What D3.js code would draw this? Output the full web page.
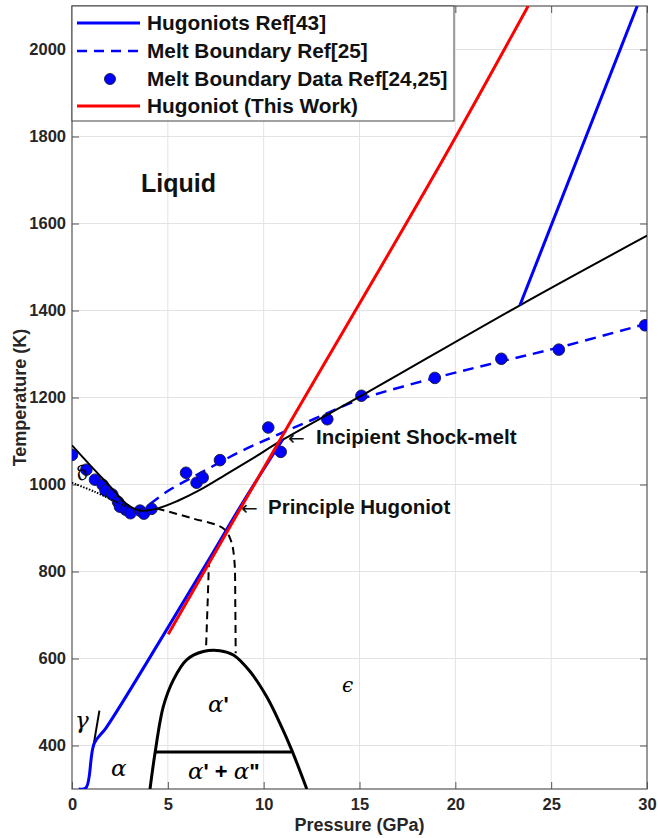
<!DOCTYPE html>
<html><head><meta charset="utf-8">
<script src="https://cdn.jsdelivr.net/npm/d3@7"></script>
<style>
body{margin:0;background:#fff;}
svg{display:block;font-family:"Liberation Sans",Arial,sans-serif;}
</style></head>
<body><svg id="c" width="658" height="838"></svg>
<script>
// ---------- data (Pressure GPa, Temperature K) ----------
const xTicks = [0,5,10,15,20,25,30];
const yTicks = [400,600,800,1000,1200,1400,1600,1800,2000];

const hugoniotRef43P = [0.35,0.73,1.16,1.77,4.8,7.15,9.0,11.0];
const hugoniotRef43T = [300,303,405,440,656,828,965,1104];
const hugoniotRef43bP = [23.37,29.49];
const hugoniotRef43bT = [1412,2100];

const hugoniotThisP = [5.02,11.0,19.2,23.8];
const hugoniotThisT = [656,1114,1735,2100];

const meltRef25P = [4.07,5.0,6.68,8.76,10.5,12.6,15.0,19.2,22.4,25.4,30];
const meltRef25T = [955,985,1026,1075,1110,1150,1195,1248,1283,1315,1370];

const meltDataP = [0,0.75,1.2,1.6,1.75,2.1,2.4,2.5,2.8,3.05,3.55,3.75,4.15,5.95,6.5,6.82,7.72,10.24,10.89,13.32,15.1,18.93,22.4,25.4,29.9];
const meltDataT = [1068,1034,1011,999,986,977,960,949,942,934,940,933,944,1027,1004,1016,1056,1131,1075,1150,1204,1245,1289,1310,1366];

const meltSolidP = [0,1.1,2.0,2.85,3.55,4.4,5.5,6.7,8.0,9.5,11.0,15.5,23.37,30];
const meltSolidT = [1090,1037,995,955,940,944,962,988,1022,1062,1103,1214,1412,1572];

const deltaBoundP = [0,1.2,2.4,3.0];
const deltaBoundT = [1004,983,958,946];

const dashRightP = [4.42,6.3,7.9,8.3,8.47,8.52,8.54];
const dashRightT = [945,922,899,870,826,720,612];
const dashLeftP = [7.15,7.07,6.99];
const dashLeftT = [828,720,620];

const gammaP = [1.11,1.43];
const gammaT = [397,480];

const domeP = [4.07,4.33,4.76,5.29,5.98,6.85,7.72,8.42,9.29,10.16,10.85,11.46,12.25];
const domeT = [300,382,489,551,597,616,618,608,570,512,451,390,300];
const domeBarP = [4.33,11.46];
const domeBarT = [385,385];

const legendLabels = ["Hugoniots Ref[43]","Melt Boundary Ref[25]","Melt Boundary Data Ref[24,25]","Hugoniot (This Work)"];

// ---------- setup ----------
const svg = d3.select("#c");
const L=72, R=647, T=6, B=789;
const x = d3.scaleLinear().domain([0,30]).range([L,R]);
const y = d3.scaleLinear().domain([300,2100]).range([B,T]);
const zip = (P,Tv)=>P.map((p,i)=>[p,Tv[i]]);

svg.append("defs").append("clipPath").attr("id","clip")
  .append("rect").attr("x",L).attr("y",T).attr("width",R-L).attr("height",B-T);

// grid
const grid = svg.append("g").attr("stroke","#e3e3e3").attr("stroke-width",1);
xTicks.slice(1,-1).forEach(v=>grid.append("line").attr("x1",x(v)).attr("x2",x(v)).attr("y1",T).attr("y2",B));
yTicks.forEach(v=>grid.append("line").attr("x1",L).attr("x2",R).attr("y1",y(v)).attr("y2",y(v)));

// axes
const axCol="#262626";
const fmt = d3.format("d");
const gx = svg.append("g").attr("transform",`translate(0,${B})`)
  .call(d3.axisBottom(x).tickValues(xTicks).tickFormat(fmt).tickSizeInner(-7).tickSizeOuter(0).tickPadding(9));
const gy = svg.append("g").attr("transform",`translate(${L},0)`)
  .call(d3.axisLeft(y).tickValues(yTicks).tickFormat(fmt).tickSizeInner(-7).tickSizeOuter(0).tickPadding(6));
const gt = svg.append("g").attr("transform",`translate(0,${T})`)
  .call(d3.axisTop(x).tickValues(xTicks).tickFormat("").tickSizeInner(-7).tickSizeOuter(0));
const gr = svg.append("g").attr("transform",`translate(${R},0)`)
  .call(d3.axisRight(y).tickValues(yTicks).tickFormat("").tickSizeInner(-7).tickSizeOuter(0));
[gx,gy,gt,gr].forEach(g=>{
  g.select(".domain").remove();
  g.selectAll("line").attr("stroke","#555").attr("stroke-width",1);
  g.selectAll("text").attr("font-family","Liberation Sans, Arial, sans-serif")
    .attr("font-size",16.5).attr("font-weight","bold").attr("fill",axCol);
});
svg.append("rect").attr("x",L).attr("y",T).attr("width",R-L).attr("height",B-T)
  .attr("fill","none").attr("stroke","#555").attr("stroke-width",1.2);

// axis titles
svg.append("text").attr("x",(L+R)/2).attr("y",831).attr("text-anchor","middle")
  .attr("font-size",18).attr("font-weight","bold").attr("fill",axCol).text("Pressure (GPa)");
svg.append("text").attr("transform",`translate(26,${(T+B)/2}) rotate(-90)`).attr("text-anchor","middle")
  .attr("font-size",18).attr("font-weight","bold").attr("fill",axCol).text("Temperature (K)");

const plot = svg.append("g").attr("clip-path","url(#clip)");
const lineC = d3.line().x(d=>x(d[0])).y(d=>y(d[1])).curve(d3.curveCatmullRom.alpha(0.5));
const lineL = d3.line().x(d=>x(d[0])).y(d=>y(d[1]));

// dome
plot.append("path").attr("d",lineC(zip(domeP,domeT))).attr("fill","none").attr("stroke","#000").attr("stroke-width",3);
plot.append("path").attr("d",lineL(zip(domeBarP,domeBarT))).attr("fill","none").attr("stroke","#000").attr("stroke-width",3);
// dashed phase lines
plot.append("path").attr("d",lineC(zip(dashRightP,dashRightT))).attr("fill","none").attr("stroke","#000").attr("stroke-width",2).attr("stroke-dasharray","8,5");
plot.append("path").attr("d",lineC(zip(dashLeftP,dashLeftT))).attr("fill","none").attr("stroke","#000").attr("stroke-width",2).attr("stroke-dasharray","8,5");
// gamma boundary
plot.append("path").attr("d",lineL(zip(gammaP,gammaT))).attr("fill","none").attr("stroke","#000").attr("stroke-width",2);
// melt boundary ref25 (dashed blue)
plot.append("path").attr("d",lineC(zip(meltRef25P,meltRef25T))).attr("fill","none").attr("stroke","#0000ff").attr("stroke-width",2.5).attr("stroke-dasharray","11,7");
// data dots
plot.selectAll("circle.m").data(zip(meltDataP,meltDataT)).join("circle")
  .attr("cx",d=>x(d[0])).attr("cy",d=>y(d[1])).attr("r",5.8)
  .attr("fill","#0000ff").attr("stroke","#1a1a33").attr("stroke-width",0.9);
// black melt curve
plot.append("path").attr("d",lineC(zip(meltSolidP,meltSolidT))).attr("fill","none").attr("stroke","#000").attr("stroke-width",2);
// delta boundary (dotted)
plot.append("path").attr("d",lineC(zip(deltaBoundP,deltaBoundT))).attr("fill","none").attr("stroke","#000").attr("stroke-width",2).attr("stroke-dasharray","1.5,1.5");
// Hugoniots Ref[43]
plot.append("path").attr("d",lineC(zip(hugoniotRef43P,hugoniotRef43T))).attr("fill","none").attr("stroke","#0000ff").attr("stroke-width",3);
plot.append("path").attr("d",lineL(zip(hugoniotRef43bP,hugoniotRef43bT))).attr("fill","none").attr("stroke","#0000ff").attr("stroke-width",3);
// Hugoniot this work
plot.append("path").attr("d",lineC(zip(hugoniotThisP,hugoniotThisT))).attr("fill","none").attr("stroke","#ff0000").attr("stroke-width",3);

// phase labels
const serif = "DejaVu Serif, Liberation Serif, serif";
function greek(xp,yp,parts,size){
  const t = svg.append("text").attr("x",xp).attr("y",yp).attr("font-size",size).attr("fill","#000");
  parts.forEach(p=>{
    const s=t.append("tspan").text(p[0]);
    if(p[1]==="g"){s.attr("font-family",serif).attr("font-style","italic");}
    else {s.attr("font-family","Liberation Sans, Arial, sans-serif").attr("font-weight","bold").attr("font-size",size*0.95);}
  });
  return t;
}
greek(75,728,[["γ","g"]],23);
greek(111,776,[["α","g"]],23);
greek(208,712,[["α","g"],["'","s"]],23);
greek(188,779,[["α","g"],["' + ","s"],["α","g"],["\"","s"]],23);
greek(342,692,[["ϵ","g"]],20);
svg.append("text").attr("transform","translate(85,479) rotate(-25)").attr("text-anchor","middle")
  .attr("font-family",serif).attr("font-style","italic").attr("font-size",19).text("δ");

// annotations
svg.append("text").attr("x",141).attr("y",192).attr("font-size",25).attr("font-weight","bold").attr("fill","#111").text("Liquid");
svg.append("text").attr("x",288).attr("y",445).attr("font-family","DejaVu Sans").attr("font-size",20).attr("fill","#111").text("←");
svg.append("text").attr("x",316).attr("y",444).attr("font-size",20.5).attr("font-weight","bold").attr("fill","#111").text("Incipient Shock-melt");
svg.append("text").attr("x",241).attr("y",515).attr("font-family","DejaVu Sans").attr("font-size",20).attr("fill","#111").text("←");
svg.append("text").attr("x",268).attr("y",514).attr("font-size",20.5).attr("font-weight","bold").attr("fill","#111").text("Principle Hugoniot");

// legend
const lg = svg.append("g");
lg.append("rect").attr("x",72).attr("y",6).attr("width",382).attr("height",115).attr("fill","#fff").attr("stroke","#444").attr("stroke-width",1);
const rows=[23,51,79,106];
lg.append("line").attr("x1",77).attr("x2",140).attr("y1",rows[0]).attr("y2",rows[0]).attr("stroke","#0000ff").attr("stroke-width",3);
lg.append("line").attr("x1",77).attr("x2",140).attr("y1",rows[1]).attr("y2",rows[1]).attr("stroke","#0000ff").attr("stroke-width",2.5).attr("stroke-dasharray","10,7");
lg.append("circle").attr("cx",110).attr("cy",rows[2]).attr("r",5.5).attr("fill","#0000ff").attr("stroke","#1a1a33").attr("stroke-width",0.9);
lg.append("line").attr("x1",77).attr("x2",140).attr("y1",rows[3]).attr("y2",rows[3]).attr("stroke","#ff0000").attr("stroke-width",3);
legendLabels.forEach((s,i)=>lg.append("text").attr("x",147).attr("y",rows[i]+7).attr("font-size",20.8).attr("font-weight","bold").attr("fill","#111").text(s));
</script></body></html>
